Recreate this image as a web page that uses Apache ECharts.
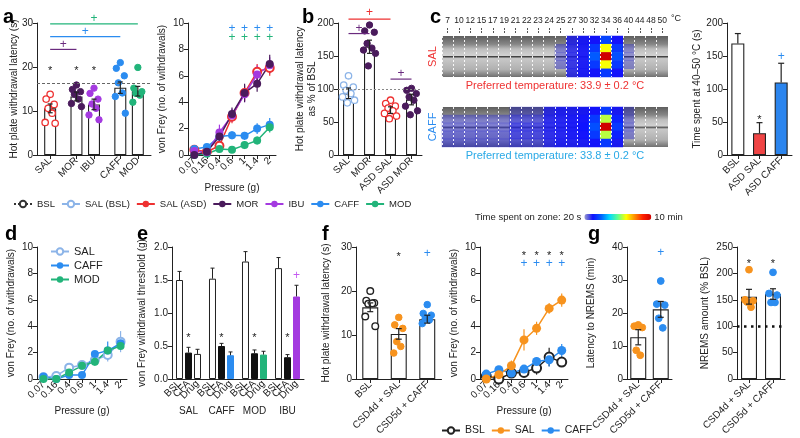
<!DOCTYPE html>
<html><head><meta charset="utf-8">
<script src="https://cdn.jsdelivr.net/npm/echarts/dist/echarts.min.js"></script>
<style>html,body{margin:0;padding:0;background:#fff}#c{width:800px;height:438px}</style>
</head><body><div id="c"></div>
<script>
// ================= DATA =================
const pressure = ['0.07','0.16','0.4','0.6','1','1.4','2'];

// a - hot plate
const aGroups = ['SAL','MOR','IBU','CAFF','MOD'];
const aMean = [10.6, 13.3, 11.5, 15.3, 14.5];
const aSem = [1.0, 1.0, 1.2, 1.3, 1.1];
const aDotSAL = [13.8, 12.7, 11.5, 10.6, 9.5, 7.4, 7.2];
const aDotMOR = [15.9, 14.9, 14.4, 13.8, 12.7, 11.7, 11.0];
const aDotIBU = [15.2, 14.0, 12.7, 11.6, 10.6, 9.1, 8.0];
const aDotCAFF = [21.0, 19.7, 18.0, 16.4, 14.1, 13.3, 9.5];
const aDotMOD = [19.9, 15.2, 14.4, 14.0, 13.6, 12.0];
const aBaseline = 16.4;
const aStarGroups = ['SAL','MOR','IBU'];
const aStarY = 19.9;
const aBrackets = [['SAL','MOR',24.0,25.1],['SAL','CAFF',26.9,28.1],['SAL','MOD',29.8,31.0]];

// a - von Frey
const aVfSAL = [0.4, 0.25, 0.7, 2.9, 4.7, 6.3, 6.6];
const aVfMOR = [0, 0.25, 1.4, 3.1, 4.7, 5.4, 6.9];
const aVfIBU = [0.3, 0.2, 1.7, 3.0, 4.6, 6.1, 6.8];
const aVfCAFF = [0.45, 0.6, 1.4, 1.5, 1.45, 2.0, 2.3];
const aVfMOD = [0, 0.1, 0.45, 0.4, 0.75, 1.1, 2.1];
const aVfSemSAL = [0.2, 0.2, 0.3, 0.5, 0.6, 0.6, 0.6];
const aVfSemMOR = [0.1, 0.2, 0.4, 0.5, 0.7, 0.6, 0.7];
const aVfSemIBU = [0.2, 0.2, 0.6, 0.5, 0.6, 0.7, 0.6];
const aVfSemCAFF = [0.2, 0.2, 0.3, 0.3, 0.3, 0.4, 0.5];
const aVfSemMOD = [0.1, 0.1, 0.2, 0.2, 0.3, 0.3, 0.4];
const aVfSigP = ['0.6','1','1.4','2'];
const aVfPlusCAFF = 9.6, aVfPlusMOD = 8.9;

// b
const bGroups = ['SAL','MOR','ASD SAL','ASD MOR'];
const bMean = [93.5, 164, 68, 84];
const bSem = [8, 10, 5, 8];
const bDotSAL = [120, 106, 103, 98, 93, 88, 83, 79];
const bDotMOR = [197, 188, 186, 169, 162, 159, 154, 135];
const bDotASDSAL = [83, 78, 74, 71, 67, 63, 59, 55];
const bDotASDMOR = [101, 98, 93, 88, 83, 74, 67, 61];
const bBaseline = 100;
const bBrackets = [['SAL','ASD SAL',206,215],['SAL','MOR',184,192],['ASD SAL','ASD MOR',115,123]];

// c - thermal gradient
const cZones = ['7','10','12','15','17','19','21','22','23','24','25','27','30','32','34','36','40','44','48','50'];
const cRows = ['1','2','3','4','5'];
const _ = null;
const cHeatSAL = [
  [_,_,_,_,_,_,_,_,_,_,_, 70, 85, 90,140, 90,_,_,_,_],
  [_,_,_,_,_,_,_,_,_,_,30, 70, 85,130,380,130,25,_,_,_],
  [_,_,_,_,_,_,_,_,_,_,30, 70, 85,160,600,150,25,_,_,_],
  [_,_,_,_,_,_,_,_,_,_,30, 70, 85,130,380,130,25,_,_,_],
  [_,_,_,_,_,_,_,_,_,_,_, 70, 85, 90,130, 90,_,_,_,_]
];
const cHeatCAFF = [
  [_, _, _, _, _, _,30,30,30,70,80,80,85, 90,130, 85,30,_,_,_],
  [30,30,30,30,30,30,50,50,50,75,80,85,90,130,350,110,30,_,_,_],
  [35,35,35,35,35,35,60,60,60,75,80,85,95,150,600,130,30,_,_,_],
  [40,40,40,40,40,40,60,60,60,75,80,85,90,130,350,110,30,_,_,_],
  [40,40,40,40,40,40,50,50,50,70,80,80,85, 90,130, 85,_,_,_,_]
];
const cHeatMin = 20, cHeatMax = 600;
const cGroups = ['BSL','ASD SAL','ASD CAFF'];
const cMean = [169, 33, 110];
const cSem = [15, 16, 29];

// d
const dSAL = [0.13, 0.23, 0.86, 1.06, 1.44, 1.82, 2.83];
const dCAFF = [0.18, 0, 0.3, 0.3, 1.9, 2.15, 2.7];
const dMOD = [0, 0, 0.5, 1.0, 1.3, 2.15, 2.5];
const dSemSAL = [0.1, 0.1, 0.2, 0.2, 0.3, 0.5, 0.8];
const dSemCAFF = [0.1, 0.05, 0.15, 0.2, 0.2, 0.7, 0.4];
const dSemMOD = [0.05, 0.05, 0.2, 0.3, 0.3, 0.3, 0.3];

// e
const eGroups = ['SAL','CAFF','MOD','IBU'];
const eBSL = [1.50, 1.52, 1.78, 1.68];
const eBSLsem = [0.13, 0.16, 0.15, 0.16];
const eCFA = [0.40, 0.50, 0.39, 0.33];
const eCFAsem = [0.08, 0.04, 0.05, 0.04];
const eDrug = [0.38, 0.36, 0.37, 1.25];
const eDrugSem = [0.07, 0.05, 0.05, 0.17];
const eStarY = 0.67, eIBUPlusY = 1.56;

// f
const fGroups = ['BSL','CSD4d + SAL','CSD5d + CAFF'];
const fMean = [16.3, 10.25, 13.6];
const fSem = [1.0, 1.2, 0.9];
const fDotBSL = [20.0, 17.8, 17.3, 17.1, 17.2, 14.2, 12.0];
const fDotSAL = [14.0, 12.3, 11.5, 8.5, 7.4, 5.9];
const fDotCAFF = [16.9, 14.9, 14.5, 13.8, 13.4, 12.6];
const fSigY = 28.5;
const fVfBSL = [0.2, 0, 0.45, 0.5, 0.83, 1.66, 1.28];
const fVfSAL = [0, 0.33, 1.0, 2.96, 3.84, 5.35, 5.98];
const fVfCAFF = [0.37, 0.7, 0.45, 0.75, 1.33, 1.45, 2.16];
const fVfSemBSL = [0.1, 0.1, 0.2, 0.3, 0.5, 0.7, 0.3];
const fVfSemSAL = [0.1, 0.2, 0.4, 0.8, 0.5, 0.4, 0.5];
const fVfSemCAFF = [0.1, 0.2, 0.3, 0.3, 0.3, 0.5, 0.5];
const fVfStarY = 9.55, fVfPlusY = 8.7;

// g
const gGroups = ['CSD4d + SAL','CSD5d + CAFF'];
const gLat = [12.65, 21.1];
const gLatSem = [2.3, 2.4];
const gLatDotSAL = [16.4, 16.0, 15.6, 8.7, 7.2];
const gLatDotCAFF = [29.7, 22.7, 22.4, 18.4, 15.5];
const gLatPlusY = 38.2;
const gNR = [155.8, 160.9];
const gNRsem = [14, 10];
const gNRDotSAL = [207, 150, 148, 146, 136];
const gNRDotCAFF = [202, 162, 159, 145, 145];
const gNRStarY = 223;
const gNRBaseline = 100;

// ================= STYLE =================
const FONT = "'Liberation Sans', Arial, Helvetica, sans-serif";
const INK = '#222';
const COL = {red:'#ee3131', mor:'#4a1b5c', brk:'#6a2a7e', ibu:'#a43ae0', caff:'#2b8cf0', mod:'#22b47a',
  lblue:'#8cb4e8', orange:'#f7931e', cyan:'#29a9e6', plusIBU:'#c45af0'};

// ================= HELPERS =================
const X = [], Y = [], S = [];
function addX(c){ X.push(c); return X.length-1; }
function addY(c){ Y.push(c); return Y.length-1; }

function yVal(gi, min, max, interval, name, gap, fmt){
  return {type:'value', gridIndex:gi, min, max, interval, name, nameLocation:'middle', nameGap:gap,
    nameMoveOverlap:false,
    nameTextStyle:{fontSize:10, color:INK, fontFamily:FONT, lineHeight:12},
    axisLine:{show:true, lineStyle:{color:INK, width:1}},
    axisTick:{show:true, length:4, lineStyle:{color:INK}},
    axisLabel:{fontSize:10, color:INK, margin:4, fontFamily:FONT, formatter:fmt},
    splitLine:{show:false}};
}
function xCat(gi, data, o){
  o = o || {};
  return {type:'category', gridIndex:gi, data, boundaryGap:true, position:o.position||'bottom',
    axisLine:{show:o.line!==false, lineStyle:{color:INK, width:1}},
    axisTick:{show:o.tick!==false, alignWithLabel:true, length:4, interval:(o.tickInterval!=null?o.tickInterval:0), lineStyle:{color:INK}},
    axisLabel:{show:o.label!==false, interval:0, rotate:(o.rot!=null?o.rot:45), fontSize:10, color:INK,
      margin:(o.margin!=null?o.margin:4), fontFamily:FONT, formatter:o.fmt},
    name:o.name, nameLocation:'middle', nameGap:(o.nameGap!=null?o.nameGap:27), nameMoveOverlap:false,
    nameTextStyle:{fontSize:10, color:INK, fontFamily:FONT},
    splitLine:{show:false}};
}
function bars(xi, yi, cats, vals, colors, o){
  o = o || {};
  return {type:'bar', xAxisIndex:xi, yAxisIndex:yi, barWidth:o.w||12, silent:true, z:2,
    data: cats.map((c,i)=>({value:[c, vals[i]], itemStyle:{color:colors[i], borderColor:o.border||INK, borderWidth:1.1}})),
    markLine:o.markLine};
}
function errBars(xi, yi, cats, means, sems, o){
  return {type:'custom', xAxisIndex:xi, yAxisIndex:yi, z:o.z||4, silent:true, clip:false,
    data: cats.map((c,i)=>[c, means[i], sems[i]]), encode:{x:0, y:1},
    renderItem:(p, api)=>{
      const x = api.value(0), m = api.value(1), s = api.value(2);
      const pm = api.coord([x, m]), ph = api.coord([x, m+s]), pl = api.coord([x, m-s]);
      const cx = pm[0] + (o.dx||0);
      const st = {stroke:o.color||INK, lineWidth:o.lw||1};
      const y2 = o.up ? pm[1] : pl[1];
      const ch = [{type:'line', shape:{x1:cx, y1:ph[1], x2:cx, y2:y2}, style:st}];
      if (o.cap){
        ch.push({type:'line', shape:{x1:cx-o.cap/2, y1:ph[1], x2:cx+o.cap/2, y2:ph[1]}, style:st});
        if (!o.up) ch.push({type:'line', shape:{x1:cx-o.cap/2, y1:pl[1], x2:cx+o.cap/2, y2:pl[1]}, style:st});
      }
      return {type:'group', children:ch};
    }};
}
const JIT = [0,-4,4,-2,2,-5,5,-1,1,3];
function dots(xi, yi, cat, vals, o){
  return {type:'custom', xAxisIndex:xi, yAxisIndex:yi, z:3, silent:true, clip:false,
    data: vals.map(v=>[cat, v]), encode:{x:0, y:1},
    renderItem:(p, api)=>{
      const pt = api.coord([api.value(0), api.value(1)]);
      return {type:'circle', shape:{cx: pt[0] + JIT[p.dataIndex % JIT.length]*(o.spread||1), cy:pt[1], r:o.r||3.2},
        style:{fill:o.fill, stroke:o.stroke||o.fill, lineWidth:o.lw||1}};
    }};
}
function brackets(xi, yi, cats, items, colors){
  return {type:'custom', xAxisIndex:xi, yAxisIndex:yi, z:4, silent:true, clip:false,
    data: items.map(b=>[cats.indexOf(b[0]), cats.indexOf(b[1]), b[2], b[3]]), encode:{x:0, y:2},
    renderItem:(p, api)=>{
      const col = colors[p.dataIndex];
      const p1 = api.coord([api.value(0), api.value(2)]), p2 = api.coord([api.value(1), api.value(2)]);
      const pp = api.coord([api.value(0), api.value(3)]);
      return {type:'group', children:[
        {type:'line', shape:{x1:p1[0], y1:p1[1], x2:p2[0], y2:p2[1]}, style:{stroke:col, lineWidth:1.2}},
        {type:'text', style:{text:'+', x:(p1[0]+p2[0])/2, y:pp[1], fill:col, fontSize:12, fontFamily:FONT, align:'center', verticalAlign:'middle'}}
      ]};
    }};
}
function marks(xi, yi, items, txt, color, o){
  o = o || {};
  const fs = o.fs || (txt === '*' ? 11 : 12);
  const dy = txt === '*' ? fs*0.28 : 0;
  return {type:'custom', xAxisIndex:xi, yAxisIndex:yi, z:4, silent:true, clip:false,
    data: items, encode:{x:0, y:1},
    renderItem:(p, api)=>{
      const pt = api.coord([api.value(0), api.value(1)]);
      return {type:'text', style:{text:txt, x:pt[0]+(o.dx||0), y:pt[1]+dy, fill:color, fontSize:fs, fontFamily:FONT, align:'center', verticalAlign:'middle'}};
    }};
}
function lineS(name, xi, yi, vals, color, o){
  o = o || {};
  return {type:'line', name, xAxisIndex:xi, yAxisIndex:yi, data:vals, silent:true, z:5,
    symbol:o.open?'emptyCircle':'circle', symbolSize:o.size||7, showSymbol:true,
    lineStyle:{color, width:1.5, type:o.dash||'solid'},
    itemStyle:{color, borderColor:color, borderWidth:o.open?1.5:0}};
}
function dashLine(v, color, type, width){
  return {silent:true, symbol:'none', label:{show:false}, lineStyle:{color, type, width}, data:[{yAxis:v}]};
}

// ================= GRIDS =================
const photo = {type:'linear', x:0, y:0, x2:0, y2:1, colorStops:[
  {offset:0, color:'#5e5e5e'},{offset:0.2, color:'#868686'},{offset:0.32, color:'#bdbdbd'},
  {offset:0.48, color:'#d2d2d2'},{offset:0.5, color:'#444'},{offset:0.55, color:'#c8c8c8'},
  {offset:0.82, color:'#b0b0b0'},{offset:1, color:'#707070'}]};
const G = [
  {left:37, top:23, width:114, height:132},
  {left:188, top:23, width:88, height:132},
  {left:338, top:23, width:84, height:132},
  {left:442, top:36, width:226, height:41, show:true, borderWidth:0, backgroundColor:photo},
  {left:442, top:107, width:226, height:40, show:true, borderWidth:0, backgroundColor:photo},
  {left:727, top:23, width:65, height:132},
  {left:37, top:247, width:90, height:132},
  {left:172, top:247, width:132, height:132},
  {left:356, top:247, width:85.5, height:132},
  {left:480, top:247, width:88, height:132},
  {left:627, top:247, width:45, height:132},
  {left:737, top:247, width:48, height:132}
].map(g=>Object.assign({outerBoundsMode:'none', containLabel:false}, g));

// ---- a left ----
const aSlotGaps = [1,2,1,2,1,1];
const aSlots = [];
{ let k=0; aGroups.forEach((g,i)=>{ for(let j=0;j<aSlotGaps[i];j++) aSlots.push('_'+(k++)); aSlots.push(g); });
  for(let j=0;j<aSlotGaps[aGroups.length];j++) aSlots.push('_'+(k++)); }
{
  const xi = addX(xCat(0, aSlots, {fmt:v=>v[0]==='_'?'':v, tickInterval:(i,v)=>v[0]!=='_'}));
  const yi = addY(yVal(0, 0, 30, 10, 'Hot plate withdrawal latency (s)', 17));
  S.push(bars(xi, yi, aGroups, aMean, aGroups.map(()=>'#fff'), {w:12, markLine:dashLine(aBaseline, '#666', [3,2], 1)}));
  S.push(dots(xi, yi, 'SAL', aDotSAL, {fill:'#fff', stroke:COL.red, lw:1.3}));
  S.push(dots(xi, yi, 'MOR', aDotMOR, {fill:COL.mor}));
  S.push(dots(xi, yi, 'IBU', aDotIBU, {fill:COL.ibu}));
  S.push(dots(xi, yi, 'CAFF', aDotCAFF, {fill:COL.caff}));
  S.push(dots(xi, yi, 'MOD', aDotMOD, {fill:COL.mod}));
  S.push(errBars(xi, yi, aGroups, aMean, aSem, {cap:5, lw:1.2}));
  S.push(marks(xi, yi, aStarGroups.map(g=>[g, aStarY]), '*', INK));
  S.push(brackets(xi, yi, aSlots, aBrackets, [COL.brk, COL.caff, COL.mod]));
}
// ---- a right ----
{
  const xi = addX(xCat(1, pressure, {name:'Pressure (g)', nameGap:28}));
  const yi = addY(yVal(1, 0, 10, 2, 'von Frey (no. of withdrawals)', 20));
  const sets = [['SAL#a', aVfSAL, aVfSemSAL, COL.red, true], ['CAFF#a', aVfCAFF, aVfSemCAFF, COL.caff],
    ['MOD#a', aVfMOD, aVfSemMOD, COL.mod], ['IBU#a', aVfIBU, aVfSemIBU, COL.ibu], ['MOR#a', aVfMOR, aVfSemMOR, COL.mor]];
  sets.forEach(s=>S.push(errBars(xi, yi, pressure, s[1], s[2], {color:s[3], lw:1.2, z:3})));
  sets.forEach(s=>S.push(lineS(s[0], xi, yi, s[1], s[3], {open:s[4], size:8})));
  S.push(marks(xi, yi, aVfSigP.map(p=>[p, aVfPlusCAFF]), '+', COL.caff));
  S.push(marks(xi, yi, aVfSigP.map(p=>[p, aVfPlusMOD]), '+', COL.mod));
  // legend-only entries
  S.push(lineS('BSL', xi, yi, [], '#333', {open:true, dash:'dotted'}));
  S.push(lineS('SAL (BSL)', xi, yi, [], COL.lblue, {open:true}));
  S.push(lineS('SAL (ASD)', xi, yi, [], COL.red));
  S.push(lineS('MOR', xi, yi, [], COL.mor));
  S.push(lineS('IBU', xi, yi, [], COL.ibu));
  S.push(lineS('CAFF', xi, yi, [], COL.caff));
  S.push(lineS('MOD', xi, yi, [], COL.mod));
}
// ---- b ----
{
  const xi = addX(xCat(2, bGroups));
  const yi = addY(yVal(2, 0, 200, 50, 'Hot plate withdrawal latency\nas % of BSL', 20));
  S.push(bars(xi, yi, bGroups, bMean, bGroups.map(()=>'#fff'), {w:11, markLine:dashLine(bBaseline, '#888', [2,2], 1)}));
  S.push(dots(xi, yi, 'SAL', bDotSAL, {fill:'#fff', stroke:COL.lblue, lw:1.3, spread:1.2}));
  S.push(dots(xi, yi, 'MOR', bDotMOR, {fill:COL.mor, spread:1.2}));
  S.push(dots(xi, yi, 'ASD SAL', bDotASDSAL, {fill:'#fff', stroke:COL.red, lw:1.3, spread:1.2}));
  S.push(dots(xi, yi, 'ASD MOR', bDotASDMOR, {fill:COL.mor, spread:1.2}));
  S.push(errBars(xi, yi, bGroups, bMean, bSem, {cap:5, lw:1.2}));
  S.push(brackets(xi, yi, bGroups, bBrackets, [COL.red, COL.brk, COL.brk]));
}
// ---- c heat strips ----
const heatIdx = [];
function heatData(m){ const d=[]; m.forEach((row,r)=>row.forEach((v,c)=>{ if(v!=null) d.push([c, r, v]); })); return d; }
function heatPanel(gi, mat, label, labelColor, pref, prefColor, withTop){
  const xi = addX({type:'category', gridIndex:gi, data:cZones, z:5,
    axisLine:{show:false}, axisTick:{show:false}, axisLabel:{show:false},
    splitLine:{show:true, interval:0, lineStyle:{color:'rgba(255,255,255,0.9)', type:[2,2], width:1}},
    name:pref, nameLocation:'middle', nameGap:3, nameMoveOverlap:false,
    nameTextStyle:{color:prefColor, fontSize:11, fontFamily:FONT}});
  if (withTop) addX({type:'category', gridIndex:gi, data:cZones, position:'top', offset:3,
    axisLine:{show:false}, axisTick:{show:true, alignWithLabel:true, length:5, lineStyle:{color:'#555', type:[2,1]}},
    axisLabel:{interval:0, fontSize:8.5, color:INK, margin:8, fontFamily:FONT}, splitLine:{show:false}});
  const yi = addY({type:'category', gridIndex:gi, data:cRows, inverse:true,
    axisLine:{show:false}, axisTick:{show:false}, axisLabel:{show:false}, splitLine:{show:false},
    name:label, nameLocation:'middle', nameGap:4, nameMoveOverlap:false,
    nameTextStyle:{color:labelColor, fontSize:11, fontFamily:FONT}});
  S.push({type:'heatmap', xAxisIndex:xi, yAxisIndex:yi, data:heatData(mat), silent:true, z:2,
    itemStyle:{borderWidth:0}});
  heatIdx.push(S.length-1);
}
heatPanel(3, cHeatSAL, 'SAL', COL.red, 'Preferred temperature: 33.9 \u00b1 0.2 \u00b0C', COL.red, true);
heatPanel(4, cHeatCAFF, 'CAFF', COL.caff, 'Preferred temperature: 33.8 \u00b1 0.2 \u00b0C', COL.cyan, false);
// ---- c right ----
{
  const xi = addX(xCat(5, cGroups));
  const yi = addY(yVal(5, 0, 200, 50, 'Time spent at 40\u201350 \u00b0C (s)', 24));
  S.push(bars(xi, yi, cGroups, cMean, ['#fff', '#f04545', '#2b85ee'], {w:13}));
  S.push(errBars(xi, yi, cGroups, cMean, cSem, {cap:6, lw:1.2, up:true}));
  S.push(marks(xi, yi, [['ASD SAL', 58]], '*', INK));
  S.push(marks(xi, yi, [['ASD CAFF', 149]], '+', COL.caff));
}
// ---- d ----
{
  const xi = addX(xCat(6, pressure, {name:'Pressure (g)', nameGap:27}));
  const yi = addY(yVal(6, 0, 10, 2, 'von Frey (no. of withdrawals)', 20));
  const sets = [['SAL#d', dSAL, dSemSAL, COL.lblue, true], ['CAFF#d', dCAFF, dSemCAFF, COL.caff], ['MOD#d', dMOD, dSemMOD, COL.mod]];
  sets.forEach(s=>S.push(errBars(xi, yi, pressure, s[1], s[2], {color:s[3], lw:1.2, z:3})));
  sets.forEach(s=>S.push(lineS(s[0], xi, yi, s[1], s[3], {open:s[4], size:8})));
}
// ---- e ----
{
  const xi = addX(xCat(7, eGroups, {rot:0, margin:27, tick:false}));
  const yi = addY(yVal(7, 0, 2, 0.5, 'von Frey withdrawal threshold (g)', 24, v=>v.toFixed(1)));
  const lab = {show:true, position:'bottom', distance:3, rotate:45, align:'right', verticalAlign:'middle',
    formatter:'{a}', fontSize:10, color:INK, fontFamily:FONT};
  const drugColors = ['#fff', COL.caff, COL.mod, COL.ibu];
  S.push({type:'bar', name:'BSL', xAxisIndex:xi, yAxisIndex:yi, barWidth:7, barGap:'28.6%', silent:true, z:2,
    data:eBSL, itemStyle:{color:'#fff', borderColor:INK, borderWidth:1}, label:lab});
  S.push({type:'bar', name:'CFA', xAxisIndex:xi, yAxisIndex:yi, barWidth:7, barGap:'28.6%', silent:true, z:2,
    data:eCFA, itemStyle:{color:'#111', borderColor:'#111', borderWidth:1}, label:lab});
  S.push({type:'bar', name:'Drug', xAxisIndex:xi, yAxisIndex:yi, barWidth:7, barGap:'28.6%', silent:true, z:2,
    data:eDrug.map((v,i)=>({value:v, itemStyle:{color:drugColors[i], borderColor:i===0?INK:drugColors[i], borderWidth:1}})), label:lab});
  S.push(errBars(xi, yi, eGroups, eBSL, eBSLsem, {dx:-9, up:true, cap:4}));
  S.push(errBars(xi, yi, eGroups, eCFA, eCFAsem, {dx:0, up:true, cap:4}));
  S.push(errBars(xi, yi, eGroups, eDrug, eDrugSem, {dx:9, up:true, cap:4}));
  S.push(marks(xi, yi, eGroups.map(g=>[g, eStarY]), '*', INK));
  S.push(marks(xi, yi, [['IBU', eIBUPlusY]], '+', COL.plusIBU, {dx:9}));
}
// ---- f left ----
{
  const xi = addX(xCat(8, fGroups));
  const yi = addY(yVal(8, 0, 30, 10, 'Hot plate withdrawal latency (s)', 24));
  S.push(bars(xi, yi, fGroups, fMean, fGroups.map(()=>'#fff'), {w:16}));
  S.push(dots(xi, yi, 'BSL', fDotBSL, {fill:'#fff', stroke:INK, lw:1.4, r:3.3}));
  S.push(dots(xi, yi, 'CSD4d + SAL', fDotSAL, {fill:COL.orange, r:3.3}));
  S.push(dots(xi, yi, 'CSD5d + CAFF', fDotCAFF, {fill:COL.caff, r:3.3}));
  S.push(errBars(xi, yi, fGroups, fMean, fSem, {cap:6, lw:1.2}));
  S.push(marks(xi, yi, [['CSD4d + SAL', fSigY]], '*', INK));
  S.push(marks(xi, yi, [['CSD5d + CAFF', fSigY]], '+', COL.caff));
}
// ---- f right ----
{
  const xi = addX(xCat(9, pressure, {name:'Pressure (g)', nameGap:27}));
  const yi = addY(yVal(9, 0, 10, 2, 'von Frey (no. of withdrawals)', 20));
  const sets = [['BSL#f', fVfBSL, fVfSemBSL, INK, true], ['CAFF#f', fVfCAFF, fVfSemCAFF, COL.caff], ['SAL#f', fVfSAL, fVfSemSAL, COL.orange]];
  sets.forEach(s=>S.push(errBars(xi, yi, pressure, s[1], s[2], {color:s[3], lw:1.2, z:3})));
  sets.forEach(s=>S.push(lineS(s[0], xi, yi, s[1], s[3], {open:s[4], size:9})));
  S.push(marks(xi, yi, aVfSigP.map(p=>[p, fVfStarY]), '*', INK));
  S.push(marks(xi, yi, aVfSigP.map(p=>[p, fVfPlusY]), '+', COL.caff));
}
// ---- g left ----
{
  const xi = addX(xCat(10, gGroups));
  const yi = addY(yVal(10, 0, 40, 10, 'Latency to NREMS (min)', 30));
  S.push(bars(xi, yi, gGroups, gLat, ['#fff','#fff'], {w:16}));
  S.push(dots(xi, yi, 'CSD4d + SAL', gLatDotSAL, {fill:COL.orange, r:3.4}));
  S.push(dots(xi, yi, 'CSD5d + CAFF', gLatDotCAFF, {fill:COL.caff, r:3.4}));
  S.push(errBars(xi, yi, gGroups, gLat, gLatSem, {cap:6, lw:1.2}));
  S.push(marks(xi, yi, [['CSD5d + CAFF', gLatPlusY]], '+', COL.caff));
}
// ---- g right ----
{
  const xi = addX(xCat(11, gGroups));
  const yi = addY(yVal(11, 0, 250, 50, 'NREMS amount (% BSL)', 26));
  S.push(bars(xi, yi, gGroups, gNR, ['#fff','#fff'], {w:16, markLine:dashLine(gNRBaseline, '#111', [2.5,4.5], 2.5)}));
  S.push(dots(xi, yi, 'CSD4d + SAL', gNRDotSAL, {fill:COL.orange, r:3.4}));
  S.push(dots(xi, yi, 'CSD5d + CAFF', gNRDotCAFF, {fill:COL.caff, r:3.4}));
  S.push(errBars(xi, yi, gGroups, gNR, gNRsem, {cap:6, lw:1.2}));
  S.push(marks(xi, yi, gGroups.map(g=>[g, gNRStarY]), '*', INK));
}

// ================= OPTION =================
const legendText = {fontSize:10, color:INK, fontFamily:FONT};
const strip = n=>n.split('#')[0];
const letter = (t, x, y)=>({type:'text', x, y, silent:true, style:{text:t, fill:'#000', font:'bold 20px '+FONT, verticalAlign:'bottom'}});
const option = {
  animation:false,
  textStyle:{fontFamily:FONT},
  grid:G, xAxis:X, yAxis:Y, series:S,
  legend:[
    {data:['BSL','SAL (BSL)','SAL (ASD)','MOR','IBU','CAFF','MOD'], left:8, top:194, itemWidth:18, itemHeight:8,
      itemGap:6, textStyle:Object.assign({}, legendText, {fontSize:9.5}), selectedMode:false},
    {data:['SAL#d','CAFF#d','MOD#d'], orient:'vertical', left:45, top:241, itemWidth:18, itemHeight:8, itemGap:3,
      textStyle:Object.assign({}, legendText, {fontSize:11}), formatter:strip, selectedMode:false},
    {data:['BSL#f','SAL#f','CAFF#f'], left:436, top:420, itemWidth:18, itemHeight:8, itemGap:6,
      textStyle:Object.assign({}, legendText, {fontSize:10.5}), formatter:strip, selectedMode:false}
  ],
  visualMap:{type:'continuous', min:cHeatMin, max:cHeatMax, seriesIndex:heatIdx, orient:'horizontal',
    left:460, top:197, itemWidth:6, itemHeight:67, calculable:false, hoverLink:false, textGap:3,
    text:['10 min','Time spent on zone: 20 s'], textStyle:{fontSize:9.5, color:INK, fontFamily:FONT},
    inRange:{color:['rgba(30,30,200,0.3)','#1010ff','#0060ff','#00d8ff','#60ff90','#ffff00','#ff9000','#ff2000','#d00000']}},
  graphic:[
    letter('a', 3, 27), letter('b', 302, 27), letter('c', 430, 27),
    letter('d', 5, 244), letter('e', 137, 244), letter('f', 322, 244), letter('g', 588, 244),
    {type:'text', x:671, y:19, silent:true, style:{text:'\u00b0C', fill:INK, font:'9px '+FONT, verticalAlign:'middle'}}
  ]
};
const chart = echarts.init(document.getElementById('c'), null, {renderer:'canvas'});
chart.setOption(option);
</script></body></html>
